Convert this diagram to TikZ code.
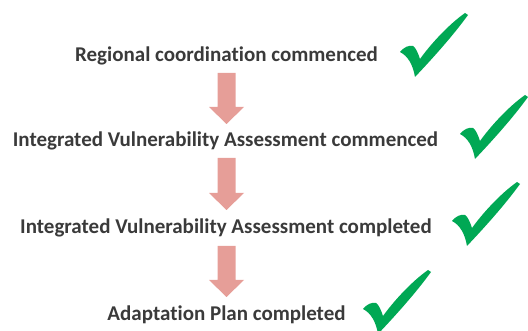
\documentclass[tikz,border=0pt]{standalone}
\usepackage{fontspec}
\setmainfont[Ligatures=NoCommon]{Carlito}
\definecolor{txtgray}{RGB}{58,58,58}
\definecolor{arrowpink}{RGB}{230,158,152}
\definecolor{checkgreen}{RGB}{0,168,84}
\begin{document}
\begin{tikzpicture}[x=1pt,y=-1pt,
  steptext/.style={anchor=base,inner sep=0pt,font=\bfseries\fontsize{21}{25}\selectfont,text=txtgray},
  checkmark/.pic={
    \fill[checkgreen] (0,39) .. controls (4,34) and (9,32) .. (13,33)
      .. controls (16,35) and (18,40) .. (20,46)
      .. controls (30,32) and (48,12) .. (65,0)
      -- (68,2)
      .. controls (52,24) and (32,46) .. (15,64)
      .. controls (13,52) and (8,43) .. (0,39) -- cycle;
  }]
\useasboundingbox (0,0) rectangle (528,331);
\node[steptext] (s1) at (226.5,62) {Regional coordination commenced};
\node[steptext] (s2) at (225.5,147) {Integrated Vulnerability Assessment commenced};
\node[steptext] (s3) at (226,234) {Integrated Vulnerability Assessment completed};
\node[steptext] (s4) at (226.5,321) {Adaptation Plan completed};
% block arrows
\foreach \t/\b in {73/124,158/210,246/297}{
  \fill[arrowpink] (217.5,\t) -- (235.5,\t) -- (235.5,\b-17) -- (244,\b-17) -- (226.5,\b) -- (209,\b-17) -- (217.5,\b-17) -- cycle;
}
\pic at (400,13) {checkmark};
\pic at (460,95) {checkmark};
\pic at (452,182) {checkmark};
\pic at (363,270) {checkmark};
\end{tikzpicture}
\end{document}
